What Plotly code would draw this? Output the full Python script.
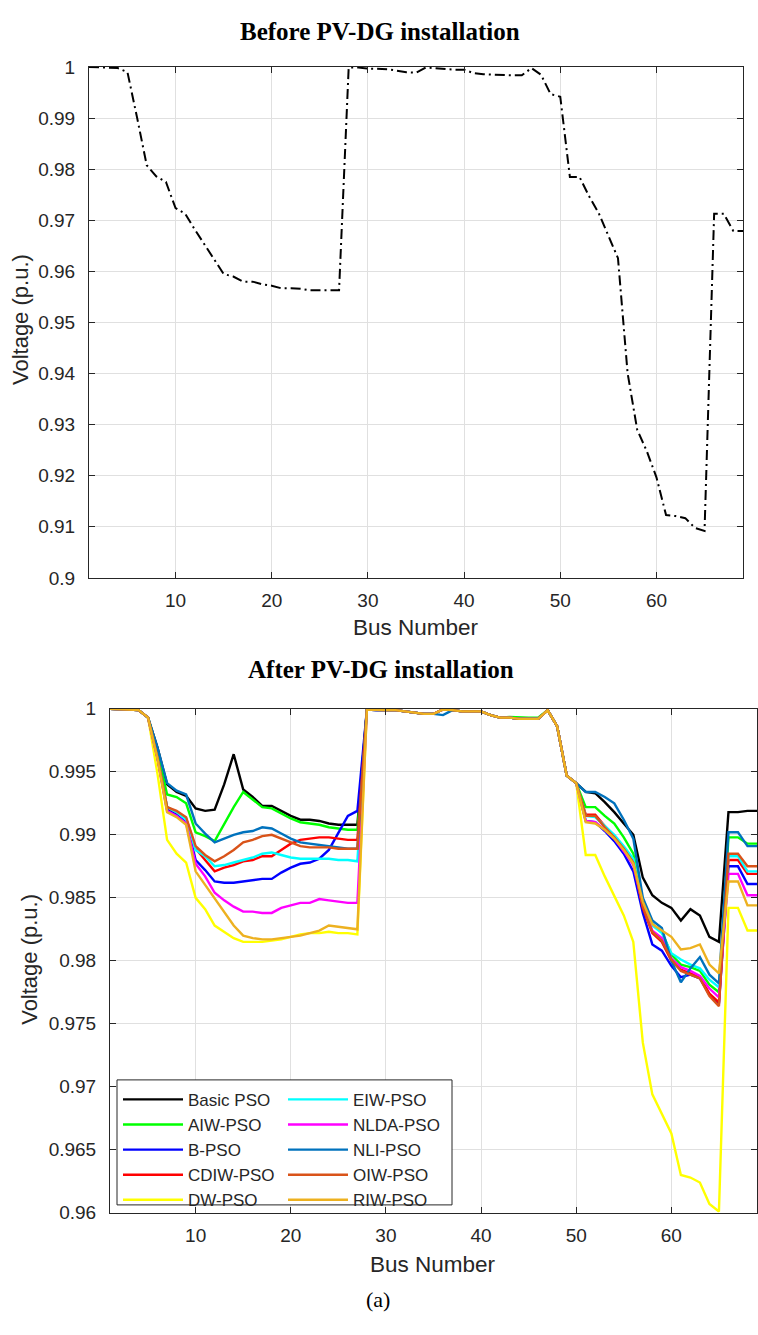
import plotly.graph_objects as go

W, H = 758, 1335

bus = list(range(1, 70))

before_pv = [1.0000, 1.0000, 0.9999, 0.9998, 0.9990, 0.9901, 0.9808, 0.9786, 0.9775, 0.9724,
             0.9713, 0.9682, 0.9653, 0.9624, 0.9595, 0.9590, 0.9580, 0.9580, 0.9575, 0.9572,
             0.9567, 0.9567, 0.9566, 0.9563, 0.9563, 0.9563, 0.9563, 0.9999, 0.9999, 0.9997,
             0.9997, 0.9996, 0.9993, 0.9990, 0.9989, 0.9999, 0.9998, 0.9996, 0.9995, 0.9995,
             0.9988, 0.9986, 0.9985, 0.9985, 0.9984, 0.9984, 0.9998, 0.9985, 0.9947, 0.9942,
             0.9785, 0.9785, 0.9747, 0.9714, 0.9669, 0.9626, 0.9401, 0.9290, 0.9248, 0.9197,
             0.9123, 0.9121, 0.9117, 0.9098, 0.9092, 0.9713, 0.9713, 0.9679, 0.9679]

basic_pso = [1.0, 1.0, 0.99995, 0.9999, 0.9993, 0.9969, 0.9940, 0.9934, 0.9931, 0.9921,
             0.9919, 0.9920, 0.9940, 0.9964, 0.9936, 0.9930, 0.9923, 0.9923, 0.9919, 0.9915,
             0.9912, 0.9912, 0.9911, 0.9909, 0.9908, 0.9908, 0.9908, 0.99995, 0.9999, 0.9999,
             0.9999, 0.9998, 0.9997, 0.9996, 0.9996, 0.99995, 0.9999, 0.9998, 0.9998, 0.9998,
             0.9995, 0.9993, 0.9993, 0.9992, 0.9992, 0.9992, 0.9999, 0.9986, 0.9947, 0.9941,
             0.9934, 0.9933, 0.9926, 0.9918, 0.9909, 0.9900, 0.9866, 0.9852, 0.9846, 0.9842,
             0.9832, 0.9841, 0.9836, 0.9819, 0.9815, 0.9918, 0.9918, 0.9919, 0.9919]

aiw_pso = [1.0, 1.0, 0.99995, 0.9999, 0.9993, 0.9966, 0.9932, 0.9930, 0.9925, 0.9902,
           0.9899, 0.9895, 0.9909, 0.9922, 0.9934, 0.9928, 0.9922, 0.9921, 0.9917, 0.9913,
           0.9910, 0.9909, 0.9908, 0.9906, 0.9905, 0.9904, 0.9904, 0.99995, 0.9999, 0.9999,
           0.9999, 0.9998, 0.9997, 0.9996, 0.9996, 0.99995, 0.9999, 0.9998, 0.9998, 0.9998,
           0.9995, 0.9993, 0.99935, 0.9993, 0.9993, 0.9993, 0.9999, 0.9986, 0.9947, 0.9941,
           0.9922, 0.9922, 0.9915, 0.9909, 0.9898, 0.9885, 0.9848, 0.9829, 0.9823, 0.9805,
           0.9797, 0.9795, 0.9792, 0.9781, 0.9775, 0.9898, 0.9898, 0.9893, 0.9893]

b_pso = [1.0, 1.0, 0.99995, 0.9999, 0.9993, 0.9961, 0.9920, 0.9916, 0.9910, 0.9880,
         0.9872, 0.9863, 0.9862, 0.9862, 0.9863, 0.9864, 0.9865, 0.9865, 0.9870, 0.9874,
         0.9877, 0.9878, 0.9881, 0.9888, 0.9902, 0.9915, 0.9919, 0.99995, 0.9999, 0.9999,
         0.9999, 0.9998, 0.9997, 0.9996, 0.9996, 0.99995, 0.9999, 0.9998, 0.9998, 0.9998,
         0.9995, 0.9993, 0.9993, 0.9992, 0.9992, 0.9992, 0.9999, 0.9986, 0.9947, 0.9941,
         0.9911, 0.9910, 0.9903, 0.9895, 0.9885, 0.9871, 0.9838, 0.9813, 0.9808, 0.9796,
         0.9787, 0.9789, 0.9786, 0.9773, 0.9766, 0.9875, 0.9875, 0.9861, 0.9861]

cdiw_pso = [1.0, 1.0, 0.99995, 0.9999, 0.9993, 0.9961, 0.9922, 0.9918, 0.9913, 0.9889,
            0.9880, 0.9871, 0.9874, 0.9876, 0.9879, 0.9880, 0.9883, 0.9883, 0.9888, 0.9893,
            0.9896, 0.9897, 0.9898, 0.9898, 0.9897, 0.9896, 0.9896, 0.99995, 0.9999, 0.9999,
            0.9999, 0.9998, 0.9997, 0.9996, 0.9996, 0.99995, 0.9999, 0.9998, 0.9998, 0.9998,
            0.9995, 0.9993, 0.9993, 0.9992, 0.9992, 0.9992, 0.9999, 0.9986, 0.9947, 0.9941,
            0.9916, 0.9916, 0.9907, 0.9899, 0.9890, 0.9879, 0.9842, 0.9822, 0.9815, 0.9800,
            0.9793, 0.9790, 0.9787, 0.9774, 0.9767, 0.9880, 0.9880, 0.9869, 0.9869]

dw_pso = [1.0, 1.0, 0.99995, 0.9999, 0.9993, 0.9948, 0.9896, 0.9885, 0.9878, 0.9850,
          0.9841, 0.9828, 0.9823, 0.9818, 0.9815, 0.9815, 0.9815, 0.9816, 0.9817, 0.9819,
          0.9821, 0.9822, 0.9822, 0.9823, 0.9822, 0.9822, 0.9821, 0.99995, 0.9999, 0.9999,
          0.9999, 0.9998, 0.9997, 0.9996, 0.9996, 0.99995, 0.9999, 0.9998, 0.9998, 0.9998,
          0.9995, 0.9993, 0.9993, 0.9992, 0.9992, 0.9992, 0.9999, 0.9986, 0.9947, 0.9941,
          0.9884, 0.9884, 0.9867, 0.9852, 0.9836, 0.9815, 0.9735, 0.9694, 0.9678, 0.9663,
          0.9630, 0.9628, 0.9624, 0.9607, 0.9601, 0.9842, 0.9842, 0.9824, 0.9824]

eiw_pso = [1.0, 1.0, 0.99995, 0.9999, 0.9993, 0.9961, 0.9922, 0.9918, 0.9912, 0.9888,
           0.9883, 0.9875, 0.9876, 0.9878, 0.9880, 0.9882, 0.9885, 0.9886, 0.9884, 0.9882,
           0.9881, 0.9881, 0.9881, 0.9881, 0.9880, 0.9880, 0.9879, 0.99995, 0.9999, 0.9999,
           0.9999, 0.9998, 0.9997, 0.9996, 0.9996, 0.99995, 0.9999, 0.9998, 0.9998, 0.9998,
           0.9995, 0.9993, 0.9993, 0.9992, 0.9992, 0.9992, 0.9999, 0.9986, 0.9947, 0.9941,
           0.9915, 0.9914, 0.9907, 0.9900, 0.9891, 0.9881, 0.9846, 0.9828, 0.9822, 0.9806,
           0.9801, 0.9797, 0.9794, 0.9785, 0.9779, 0.9883, 0.9883, 0.9871, 0.9871]

nlda_pso = [1.0, 1.0, 0.99995, 0.9999, 0.9993, 0.9960, 0.9919, 0.9915, 0.9909, 0.9877,
            0.9867, 0.9854, 0.9848, 0.9843, 0.9839, 0.9839, 0.9838, 0.9838, 0.9842, 0.9844,
            0.9846, 0.9846, 0.9849, 0.9848, 0.9847, 0.9846, 0.9846, 0.99995, 0.9999, 0.9999,
            0.9999, 0.9998, 0.9997, 0.9996, 0.9996, 0.99995, 0.9999, 0.9998, 0.9998, 0.9998,
            0.9995, 0.9993, 0.9993, 0.9992, 0.9992, 0.9992, 0.9999, 0.9986, 0.9947, 0.9941,
            0.9911, 0.9910, 0.9904, 0.9897, 0.9887, 0.9876, 0.9844, 0.9824, 0.9818, 0.9802,
            0.9795, 0.9792, 0.9788, 0.9778, 0.9771, 0.9869, 0.9869, 0.9852, 0.9852]

nli_pso = [1.0, 1.0, 0.99995, 0.9999, 0.9993, 0.9969, 0.9941, 0.9935, 0.9932, 0.9909,
           0.9901, 0.9894, 0.9897, 0.9900, 0.9902, 0.9903, 0.9906, 0.9905, 0.9901, 0.9897,
           0.9894, 0.9893, 0.9892, 0.9891, 0.9890, 0.9889, 0.9889, 0.99995, 0.9999, 0.9999,
           0.9999, 0.9998, 0.9997, 0.9996, 0.9996, 0.9995, 0.9999, 0.9998, 0.9998, 0.9998,
           0.9995, 0.9993, 0.9993, 0.9992, 0.9992, 0.9992, 0.9999, 0.9986, 0.9947, 0.9941,
           0.9934, 0.9934, 0.9930, 0.9925, 0.9912, 0.9897, 0.9850, 0.9832, 0.9826, 0.9800,
           0.9783, 0.9794, 0.9803, 0.9789, 0.9782, 0.9902, 0.9902, 0.9891, 0.9891]

oiw_pso = [1.0, 1.0, 0.99995, 0.9999, 0.9993, 0.9961, 0.9922, 0.9919, 0.9914, 0.9891,
           0.9884, 0.9879, 0.9883, 0.9888, 0.9894, 0.9896, 0.9899, 0.9900, 0.9897, 0.9894,
           0.9891, 0.9890, 0.9890, 0.9890, 0.9889, 0.9889, 0.9889, 0.99995, 0.9999, 0.9999,
           0.9999, 0.9998, 0.9997, 0.9996, 0.9996, 0.99995, 0.9999, 0.9998, 0.9998, 0.9998,
           0.9995, 0.9993, 0.9993, 0.9992, 0.9992, 0.9992, 0.9999, 0.9986, 0.9947, 0.9941,
           0.9915, 0.9915, 0.9906, 0.9898, 0.9889, 0.9878, 0.9843, 0.9823, 0.9816, 0.9801,
           0.9792, 0.9789, 0.9786, 0.9772, 0.9764, 0.9885, 0.9885, 0.9875, 0.9875]

riw_pso = [1.0, 1.0, 0.99995, 0.9999, 0.9993, 0.9960, 0.9918, 0.9914, 0.9908, 0.9871,
           0.9860, 0.9849, 0.9838, 0.9828, 0.9820, 0.9818, 0.9817, 0.9817, 0.9818, 0.9819,
           0.9820, 0.9822, 0.9824, 0.9828, 0.9827, 0.9826, 0.9825, 0.99995, 0.9999, 0.9999,
           0.9999, 0.9998, 0.9997, 0.9996, 0.9996, 0.99995, 0.9999, 0.9998, 0.9998, 0.9998,
           0.9995, 0.9993, 0.9993, 0.9992, 0.9992, 0.9992, 0.9999, 0.9986, 0.9947, 0.9941,
           0.9910, 0.9909, 0.9904, 0.9897, 0.9888, 0.9877, 0.9847, 0.9829, 0.9824, 0.9819,
           0.9809, 0.9810, 0.9813, 0.9797, 0.9790, 0.9863, 0.9863, 0.9844, 0.9844]

series_names = ["Basic PSO", "AIW-PSO", "B-PSO", "CDIW-PSO", "DW-PSO",
                "EIW-PSO", "NLDA-PSO", "NLI-PSO", "OIW-PSO", "RIW-PSO"]
series_values = [basic_pso, aiw_pso, b_pso, cdiw_pso, dw_pso,
                 eiw_pso, nlda_pso, nli_pso, oiw_pso, riw_pso]
series_colors = ["#000000", "#00FF00", "#0000FF", "#FF0000", "#FFFF00",
                 "#00FFFF", "#FF00FF", "#0072BD", "#D95319", "#EDB120"]

x_ticks = [10, 20, 30, 40, 50, 60]
top_y_ticks = [0.90, 0.91, 0.92, 0.93, 0.94, 0.95, 0.96, 0.97, 0.98, 0.99, 1.00]
top_y_text = ["0.9", "0.91", "0.92", "0.93", "0.94", "0.95", "0.96", "0.97", "0.98", "0.99", "1"]
bot_y_ticks = [0.96, 0.965, 0.97, 0.975, 0.98, 0.985, 0.99, 0.995, 1.00]
bot_y_text = ["0.96", "0.965", "0.97", "0.975", "0.98", "0.985", "0.99", "0.995", "1"]

AX = "#262626"
GRID = "#e0e0e0"
SANS = "Liberation Sans, Arial, sans-serif"
SERIF = "Liberation Serif, Times New Roman, serif"


def px_x(p):
    return p / W


def px_y(p):
    return 1 - p / H


fig = go.Figure()

fig.add_trace(go.Scatter(x=bus, y=before_pv, mode="lines", xaxis="x", yaxis="y",
                         line=dict(color="black", width=2, dash="10px,4px,2px,4px"),
                         showlegend=False, name="Before"))

for i, (nm, vals, col) in enumerate(zip(series_names, series_values, series_colors)):
    fig.add_trace(go.Scatter(x=bus, y=vals, mode="lines", xaxis="x2", yaxis="y2",
                             name=nm, line=dict(color=col, width=2.4),
                             legend="legend" if i < 5 else "legend2"))

axis_common = dict(showline=True, linecolor=AX, linewidth=1, mirror="ticks",
                   ticks="inside", ticklen=6, tickcolor=AX, showgrid=True,
                   gridcolor=GRID, gridwidth=1, zeroline=False,
                   tickfont=dict(family=SANS, size=19, color=AX))

fig.update_layout(
    width=W, height=H, margin=dict(l=0, r=0, t=0, b=0),
    paper_bgcolor="white", plot_bgcolor="white",
    xaxis=dict(domain=[px_x(89), px_x(743)], range=[1, 69], anchor="y",
               tickvals=x_ticks, ticklabelstandoff=5, **axis_common),
    yaxis=dict(domain=[px_y(577), px_y(58)], range=[0.9, 1.0], anchor="x",
               tickvals=top_y_ticks, ticktext=top_y_text, ticklabelstandoff=9, **axis_common),
    xaxis2=dict(domain=[px_x(110), px_x(757)], range=[1, 69], anchor="y2",
                tickvals=x_ticks, ticklabelstandoff=5, **axis_common),
    yaxis2=dict(domain=[px_y(1222), px_y(710)], range=[0.96, 1.0], anchor="x2",
                tickvals=bot_y_ticks, ticktext=bot_y_text, ticklabelstandoff=9, **axis_common),
    legend=dict(x=px_x(118), y=px_y(1089), xanchor="left", yanchor="top",
                orientation="v", bgcolor="rgba(0,0,0,0)", borderwidth=0,
                font=dict(family=SANS, size=17, color=AX), itemwidth=60,
                traceorder="normal", tracegroupgap=0),
    legend2=dict(x=px_x(283), y=px_y(1089), xanchor="left", yanchor="top",
                 orientation="v", bgcolor="rgba(0,0,0,0)", borderwidth=0,
                 font=dict(family=SANS, size=17, color=AX), itemwidth=60,
                 traceorder="normal", tracegroupgap=0),
    shapes=[dict(type="rect", xref="paper", yref="paper",
                 x0=px_x(117), x1=px_x(452), y0=px_y(1214), y1=px_y(1087),
                 fillcolor="white", line=dict(color=AX, width=1), layer="above")],
    annotations=[
        dict(text="<b>Before PV-DG installation</b>", x=px_x(380), y=px_y(22),
             xref="paper", yref="paper", showarrow=False, xanchor="center", yanchor="middle",
             font=dict(family=SERIF, size=25, color="black")),
        dict(text="<b>After PV-DG installation</b>", x=px_x(381), y=px_y(670),
             xref="paper", yref="paper", showarrow=False, xanchor="center", yanchor="middle",
             font=dict(family=SERIF, size=25, color="black")),
        dict(text="(a)", x=px_x(378), y=px_y(1310),
             xref="paper", yref="paper", showarrow=False, xanchor="center", yanchor="middle",
             font=dict(family=SERIF, size=22, color="black")),
        dict(text="Bus Number", x=px_x(416), y=px_y(627),
             xref="paper", yref="paper", showarrow=False, xanchor="center", yanchor="middle",
             font=dict(family=SANS, size=22.5, color=AX)),
        dict(text="Bus Number", x=px_x(433), y=px_y(1275),
             xref="paper", yref="paper", showarrow=False, xanchor="center", yanchor="middle",
             font=dict(family=SANS, size=22.5, color=AX)),
        dict(text="Voltage (p.u.)", x=px_x(20), y=px_y(315), textangle=-90,
             xref="paper", yref="paper", showarrow=False, xanchor="center", yanchor="middle",
             font=dict(family=SANS, size=22, color=AX)),
        dict(text="Voltage (p.u.)", x=px_x(30), y=px_y(965), textangle=-90,
             xref="paper", yref="paper", showarrow=False, xanchor="center", yanchor="middle",
             font=dict(family=SANS, size=22, color=AX)),
    ],
)

fig.write_html("out.html")
